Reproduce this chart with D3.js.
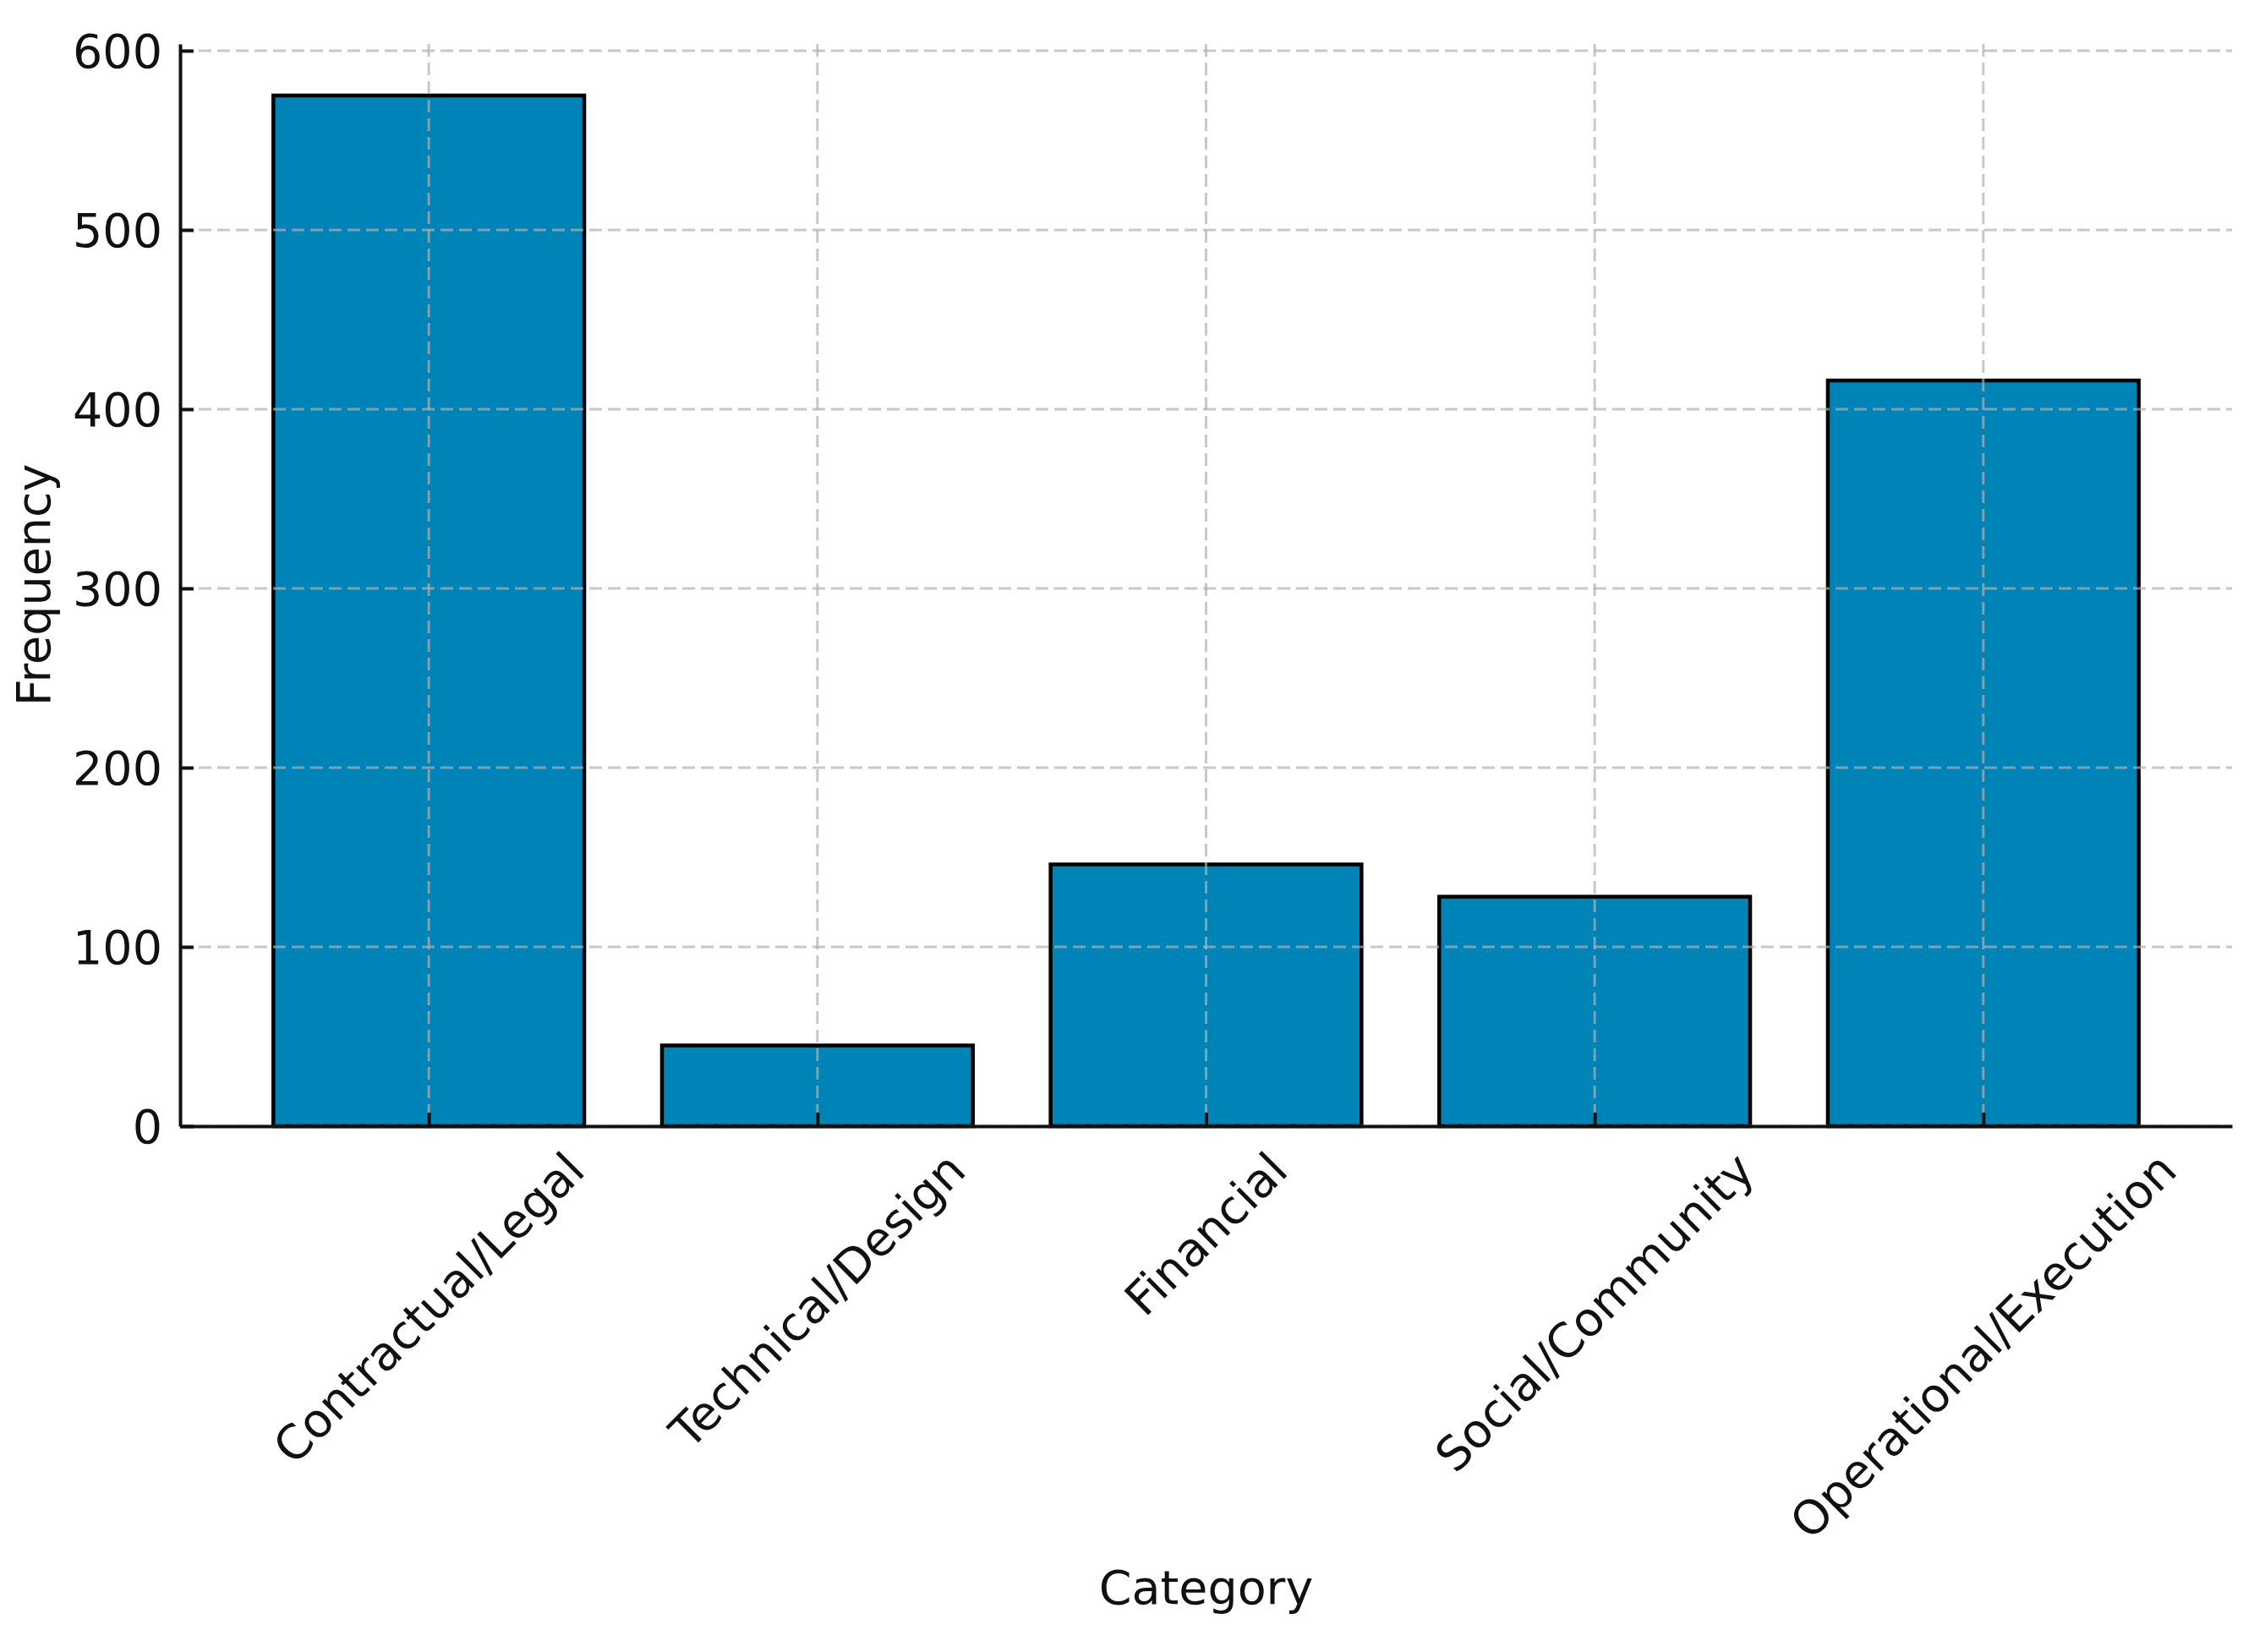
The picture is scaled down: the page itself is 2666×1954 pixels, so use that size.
<!DOCTYPE html>
<html>
<head>
<meta charset="utf-8">
<script src="https://cdn.jsdelivr.net/npm/d3@7"></script>
<style>
  html, body { margin: 0; padding: 0; background: #ffffff; }
  svg { display: block; }
  text { font-family: "DejaVu Sans", sans-serif; fill: #111111; }
</style>
</head>
<body>
<svg id="chart" width="2666" height="1954"></svg>
<script>
// Data
const categories = ["Contractual/Legal", "Technical/Design", "Financial", "Social/Community", "Operational/Execution"];
const frequencies = [575, 45, 146, 128, 416];
const yTicks = [0, 100, 200, 300, 400, 500, 600];
const xLabel = "Category";
const yLabel = "Frequency";

const W = 2666, H = 1954;
const plot = { left: 213, right: 2640, top: 52, bottom: 1332 };
const fontSize = 55.5;
const barColor = "#0083b6";

const svg = d3.select("#chart");

const x = d3.scaleLinear()
  .domain([-0.64, categories.length - 1 + 0.64])
  .range([plot.left, plot.right]);
const barW = 0.8;
const y = d3.scaleLinear()
  .domain([0, d3.max(frequencies) * 1.05])
  .range([plot.bottom, plot.top]);

// Bars
svg.append("g").selectAll("rect")
  .data(frequencies)
  .join("rect")
  .attr("x", (d, i) => x(i - barW / 2))
  .attr("width", (d, i) => x(i + barW / 2) - x(i - barW / 2))
  .attr("y", d => y(d))
  .attr("height", d => y(0) - y(d))
  .attr("fill", barColor)
  .attr("stroke", "#000")
  .attr("stroke-width", 4.5);

// Grid (drawn above bars)
const grid = svg.append("g")
  .attr("stroke", "#b0b0b0")
  .attr("stroke-opacity", 0.7)
  .attr("stroke-width", 3)
  .attr("stroke-dasharray", "15,7");
grid.selectAll("line.h")
  .data(yTicks)
  .join("line")
  .attr("class", "h")
  .attr("x1", plot.left).attr("x2", plot.right)
  .attr("y1", d => y(d)).attr("y2", d => y(d));
grid.selectAll("line.v")
  .data(categories)
  .join("line")
  .attr("class", "v")
  .attr("x1", (d, i) => x(i)).attr("x2", (d, i) => x(i))
  .attr("y1", plot.top).attr("y2", plot.bottom);

// Y axis
const yAxis = d3.axisLeft(y)
  .tickValues(yTicks)
  .tickSizeInner(-16)
  .tickSizeOuter(0)
  .tickPadding(21);
const gy = svg.append("g")
  .attr("transform", `translate(${plot.left},0)`)
  .call(yAxis);
gy.select(".domain").attr("stroke", "#111").attr("stroke-width", 4);
gy.selectAll(".tick line").attr("stroke", "#111").attr("stroke-width", 4);
gy.selectAll(".tick text")
  .attr("font-size", fontSize)
  .attr("font-family", "DejaVu Sans")
  .attr("fill", "#111")
  .attr("dy", "0.35em");

// X axis
const xAxis = d3.axisBottom(x)
  .tickValues(d3.range(categories.length))
  .tickSizeInner(-16)
  .tickSizeOuter(0)
  .tickFormat("");
const gx = svg.append("g")
  .attr("transform", `translate(0,${plot.bottom})`)
  .call(xAxis);
gx.select(".domain").attr("stroke", "#111").attr("stroke-width", 4);
gx.selectAll(".tick line").attr("stroke", "#111").attr("stroke-width", 4);

// Rotated x tick labels (bounding box centred on tick, top at axis + pad)
const labelTop = plot.bottom + 19;
const asc = 0.928, desc = 0.236;
categories.forEach((c, i) => {
  const t = svg.append("text")
    .attr("font-size", fontSize)
    .attr("text-anchor", "middle")
    .text(c);
  const L = t.node().getComputedTextLength();
  const side = (L + (asc + desc) * fontSize) / Math.SQRT2;
  const cx = x(i), cy = labelTop + side / 2;
  t.attr("x", 0).attr("y", 0)
    .attr("dy", ((asc - desc) / 2) + "em")
    .attr("transform", `translate(${cx},${cy}) rotate(-45)`);
});

// Axis labels
svg.append("text")
  .attr("x", (plot.left + plot.right) / 2)
  .attr("y", 1897)
  .attr("text-anchor", "middle")
  .attr("font-size", fontSize)
  .text(xLabel);

svg.append("text")
  .attr("transform", `translate(59,${(plot.top + plot.bottom) / 2}) rotate(-90)`)
  .attr("text-anchor", "middle")
  .attr("font-size", fontSize)
  .text(yLabel);
</script>
</body>
</html>
